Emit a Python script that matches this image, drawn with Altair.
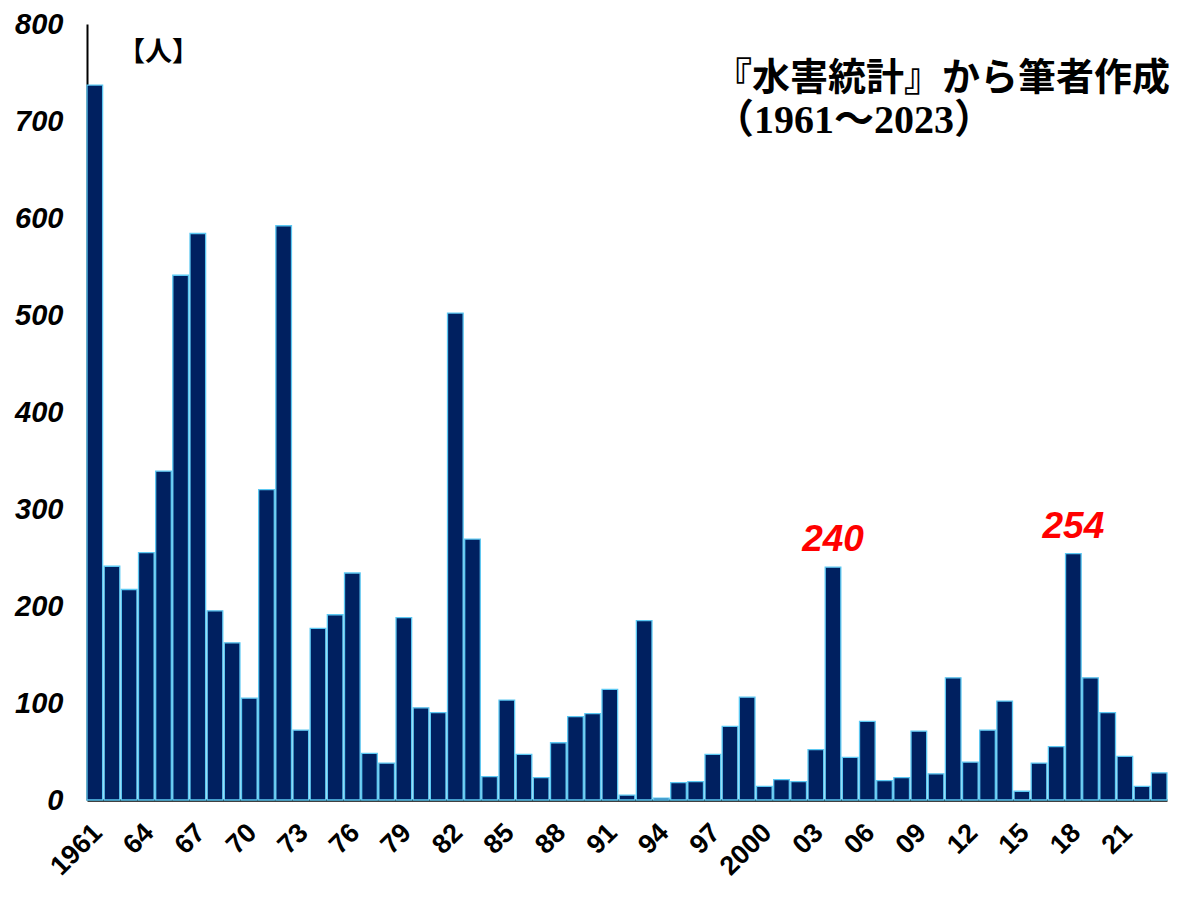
import altair as alt
import pandas as pd

years = list(range(1961, 2024))
deaths = [737, 241, 217, 255, 339, 541, 584, 195, 162, 105,
          320, 592, 72, 177, 191, 234, 48, 38, 188, 95,
          90, 502, 269, 24, 103, 47, 23, 59, 86, 89,
          114, 5, 185, 2, 18, 19, 47, 76, 106, 14,
          21, 19, 52, 240, 44, 81, 20, 23, 71, 27,
          126, 39, 72, 102, 9, 38, 55, 254, 126, 90,
          45, 14, 28]

tick_years = [1961, 1964, 1967, 1970, 1973, 1976, 1979, 1982, 1985, 1988,
              1991, 1994, 1997, 2000, 2003, 2006, 2009, 2012, 2015, 2018, 2021]
tick_labels = ["1961", "64", "67", "70", "73", "76", "79", "82", "85", "88",
               "91", "94", "97", "2000", "03", "06", "09", "12", "15", "18", "21"]

highlight_years = [2004, 2018]

title_line1 = "『水害統計』から筆者作成"
title_line2 = "（1961～2023）"
unit_text = "【人】"

df = pd.DataFrame({"year": years, "deaths": deaths})
df_hl = df[df["year"].isin(highlight_years)]

label_expr = "".join(f"datum.value == {y} ? '{t}' : " for y, t in zip(tick_years, tick_labels)) + "''"

x_enc = alt.X("year:O",
              scale=alt.Scale(paddingInner=0.09, paddingOuter=0.0, round=False),
              axis=alt.Axis(values=tick_years, labelExpr=label_expr, labelAngle=-45,
                            labelFontSize=27, labelFontWeight="bold",
                            labelFont="Liberation Sans", labelColor="black",
                            ticks=False, domainColor="black", domainWidth=2.5,
                            labelPadding=19, labelOffset=-6, title=None, grid=False))
y_enc = alt.Y("deaths:Q",
              scale=alt.Scale(domain=[0, 800], nice=False),
              axis=alt.Axis(values=list(range(0, 801, 100)), labelFontSize=29,
                            labelFontWeight="bold", labelFontStyle="italic",
                            labelFont="Liberation Sans", labelColor="black",
                            ticks=False, domainColor="black", domainWidth=2,
                            labelPadding=24, title=None, grid=False))

bars = alt.Chart(df).mark_bar(color="#002060", stroke="#5CC8F2", strokeWidth=1.3).encode(
    x=x_enc, y=y_enc
)

hl = alt.Chart(df_hl).mark_text(color="#FF0000", fontSize=37, fontWeight="bold",
                                fontStyle="italic", font="Liberation Sans",
                                baseline="alphabetic", dy=-16).encode(
    x="year:O", y="deaths:Q", text="deaths:Q"
)

title1 = alt.Chart(pd.DataFrame({"t": [title_line1]})).mark_text(
    align="left", baseline="alphabetic", fontSize=38, fontWeight="bold",
    font="Noto Sans CJK JP", color="black"
).encode(x=alt.value(627), y=alt.value(66), text="t:N")

title2 = alt.Chart(pd.DataFrame({"t": [title_line2]})).mark_text(
    align="left", baseline="alphabetic", fontSize=40, fontWeight="bold",
    font="Liberation Serif, Noto Sans CJK JP", color="black"
).encode(x=alt.value(627), y=alt.value(109), text="t:N")

unit = alt.Chart(pd.DataFrame({"t": [unit_text]})).mark_text(
    align="left", baseline="alphabetic", fontSize=27, fontWeight="bold",
    font="Noto Sans CJK JP", color="black"
).encode(x=alt.value(31), y=alt.value(37), text="t:N")

chart = alt.layer(bars, hl, title1, title2, unit).properties(
    width=1080, height=776,
    background="white",
    autosize=alt.AutoSizeParams(type="none"),
    padding={"left": 79, "top": 16, "right": 20, "bottom": 84},
).configure_view(stroke=None)

chart.save("out.html", embed_options={"renderer": "svg", "actions": False})
